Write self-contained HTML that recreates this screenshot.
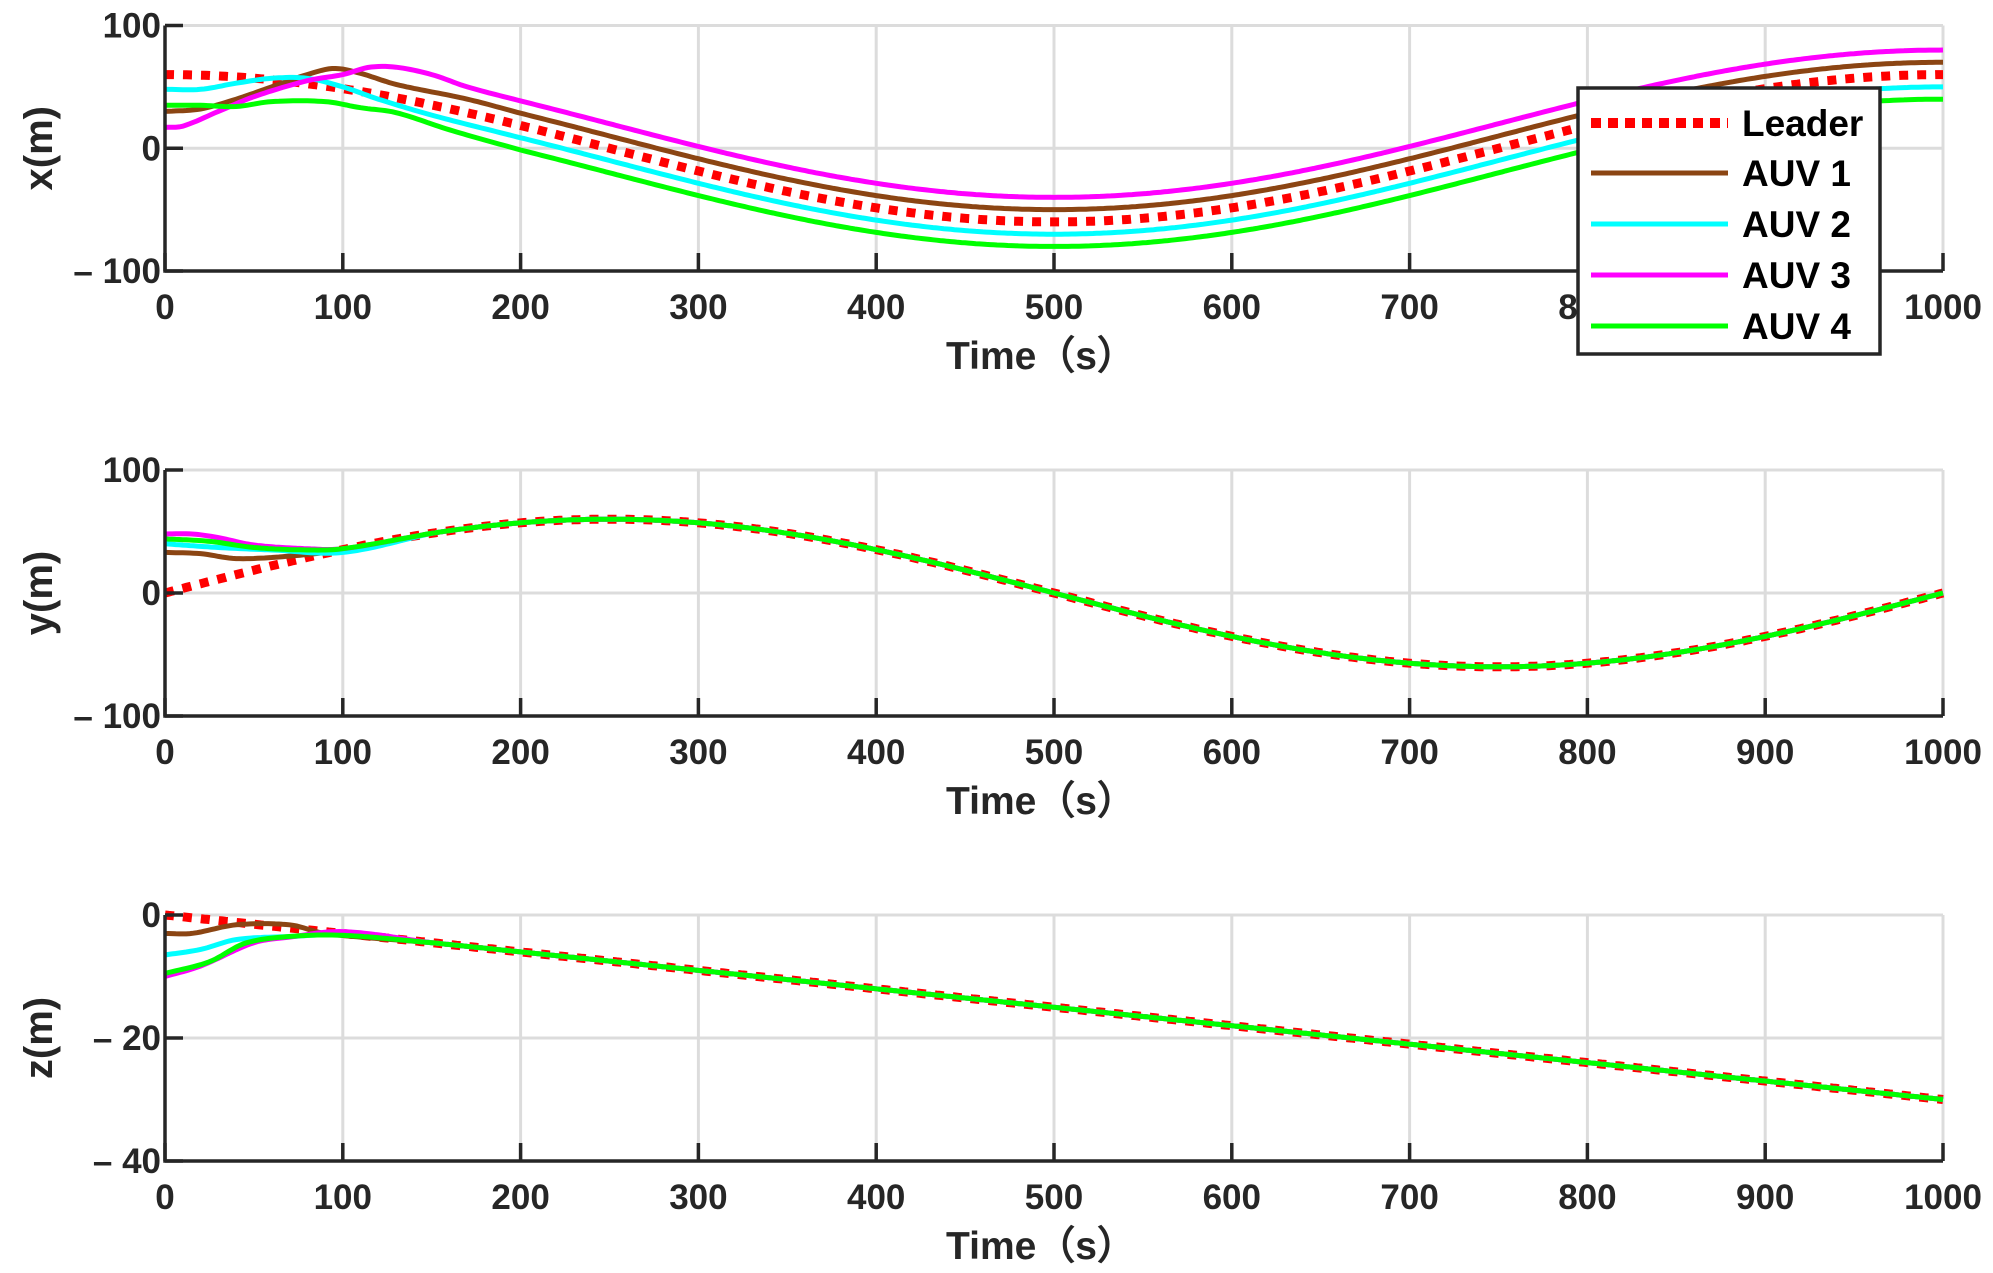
<!DOCTYPE html>
<html><head><meta charset="utf-8"><style>
html,body{margin:0;padding:0;background:#fff}
svg{display:block}
text{font-family:"Liberation Sans",Arial,sans-serif;fill:#262626;font-weight:bold}
</style></head><body>
<svg id="s" width="1993" height="1273" viewBox="0 0 1993 1273" xmlns="http://www.w3.org/2000/svg"></svg>
<script>
const NS="http://www.w3.org/2000/svg";const s=document.getElementById('s');
function el(t,a,txt){const e=document.createElementNS(NS,t);for(const k in a)e.setAttribute(k,a[k]);if(txt!==undefined)e.textContent=txt;s.appendChild(e);return e;}
const X0=165,X1=1943;
function interp(kp,t){for(let i=0;i<kp.length-1;i++){if(t<=kp[i+1][0]){const p0=kp[Math.max(i-1,0)],p1=kp[i],p2=kp[i+1],p3=kp[Math.min(i+2,kp.length-1)];const u=(t-p1[0])/(p2[0]-p1[0]);const m1=(p2[1]-p0[1])/(p2[0]-p0[0]||1)*(p2[0]-p1[0]);const m2=(p3[1]-p1[1])/(p3[0]-p1[0]||1)*(p2[0]-p1[0]);const h00=2*u*u*u-3*u*u+1,h10=u*u*u-2*u*u+u,h01=-2*u*u*u+3*u*u,h11=u*u*u-u*u;return h00*p1[1]+h10*m1+h01*p2[1]+h11*m2;}}return kp[kp.length-1][1];}
function series(kp,f){return t=>{const T=kp[kp.length-1][0];if(t>=T)return f(t);return interp(kp,t);};}
const W=2*Math.PI/1000;
const lx=t=>60*Math.cos(W*t), ly=t=>60*Math.sin(W*t), lz=t=>-0.03*t;
const panels=[
{top:25.5,bot:271,ymin:-100,ymax:100,ticks:[100,0,-100],lab:"x(m)",lead:lx,
 auv:[series([[0,30],[20,32],[40,40],[60,50],[80,60],[95,65],[110,61],[130,52],[170,40],[200,lx(200)+10]],t=>lx(t)+10),
      series([[0,48],[20,48],[40,53],[60,57],[80,57],[100,50],[120,40],[150,27],[200,lx(200)-10]],t=>lx(t)-10),
      series([[0,17],[10,18],[30,30],[50,42],[80,55],[100,60],[115,66],[130,66],[150,60],[170,50],[200,lx(200)+20]],t=>lx(t)+20),
      series([[0,35],[20,35],[40,34],[60,38],[90,38],[110,33],[130,29],[160,15],[200,lx(200)-20]],t=>lx(t)-20)]},
{top:470,bot:716,ymin:-100,ymax:100,ticks:[100,0,-100],lab:"y(m)",lead:ly,
 auv:[series([[0,33],[20,32],[40,28],[70,30],[100,35],[150,ly(150)]],ly),
      series([[0,40],[30,37],[60,35],[100,33],[150,ly(150)]],ly),
      series([[0,48],[15,48],[30,45],[50,39],[80,36],[100,36],[150,ly(150)]],ly),
      series([[0,44],[25,42],[50,37],[80,35],[100,36],[150,ly(150)]],ly)]},
{top:915,bot:1161,ymin:-40,ymax:0,ticks:[0,-20,-40],lab:"z(m)",lead:lz,
 auv:[series([[0,-3],[15,-3],[40,-1.6],[70,-1.6],[90,-3],[150,-4.5]],lz),
      series([[0,-6.5],[20,-5.6],[40,-4],[70,-3.5],[100,-3.2],[150,-4.5]],lz),
      series([[0,-10],[20,-8.3],[50,-4.5],[70,-3.6],[100,-2.7],[150,-4.5]],lz),
      series([[0,-9.5],[25,-7.6],[45,-4.6],[70,-3.5],[100,-3.3],[150,-4.5]],lz)]}
];
const cols=["#8B4513","#00FFFF","#FF00FF","#00FF00"];
const xs=t=>X0+(X1-X0)*t/1000;
panels.forEach(p=>{
 const ys=v=>p.bot-(v-p.ymin)/(p.ymax-p.ymin)*(p.bot-p.top);
 for(let t=100;t<=1000;t+=100)el('line',{x1:xs(t),x2:xs(t),y1:p.top,y2:p.bot,stroke:"#dcdcdc","stroke-width":3});
 p.ticks.forEach(v=>el('line',{x1:X0,x2:X1,y1:ys(v),y2:ys(v),stroke:"#dcdcdc","stroke-width":3}));
 const path=f=>{let d="";for(let t=0;t<=1000;t+=2){d+=(t?"L":"M")+xs(t).toFixed(1)+","+ys(f(t)).toFixed(1);}return d;};
 el('path',{d:path(p.lead),fill:"none",stroke:"#FF0000","stroke-width":9,"stroke-dasharray":"9 9"});
 p.auv.forEach((f,i)=>el('path',{d:path(f),fill:"none",stroke:cols[i],"stroke-width":5}));
 el('path',{d:`M${X0},${p.top}V${p.bot}H${X1}`,fill:"none",stroke:"#262626","stroke-width":3.5});
 for(let t=0;t<=1000;t+=100){el('line',{x1:xs(t),x2:xs(t),y1:p.bot,y2:p.bot-18,stroke:"#262626","stroke-width":3.5});
  el('text',{x:xs(t),y:p.bot+48,"font-size":35,"text-anchor":"middle"},String(t));}
 p.ticks.forEach(v=>{el('line',{x1:X0,x2:X0+18,y1:ys(v),y2:ys(v),stroke:"#262626","stroke-width":3.5});
  el('text',{x:X0-4,y:ys(v)+12,"font-size":35,"text-anchor":"end"},v<0?"\u2013 "+(-v):String(v));});
 el('text',{x:1041,y:p.bot+98,"font-size":39,"text-anchor":"middle"},"Time\uFF08s\uFF09");
 const cy=(p.top+p.bot)/2;
 el('text',{x:0,y:0,"font-size":40,"text-anchor":"middle",transform:`translate(52,${cy}) rotate(-90)`},p.lab);
});
// legend
el('rect',{x:1578,y:88,width:302,height:266,fill:"#fff",stroke:"#262626","stroke-width":3.5});
const ly0=[123,173,224,275,326],names=["Leader","AUV 1","AUV 2","AUV 3","AUV 4"];
names.forEach((n,i)=>{
 if(i==0)el('line',{x1:1591,x2:1728,y1:ly0[0],y2:ly0[0],stroke:"#FF0000","stroke-width":10,"stroke-dasharray":"10 7"});
 else el('line',{x1:1591,x2:1728,y1:ly0[i],y2:ly0[i],stroke:cols[i-1],"stroke-width":5});
 el('text',{x:1742,y:ly0[i]+13,"font-size":37,style:"fill:#000"},n);
});
</script>
</body></html>
